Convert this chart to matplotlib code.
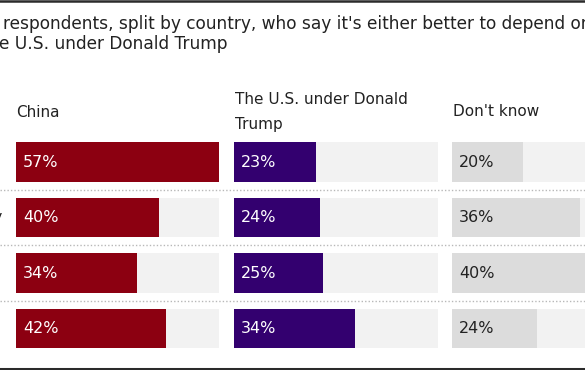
import matplotlib
matplotlib.use("Agg")
import matplotlib.pyplot as plt
from matplotlib.lines import Line2D

W, H = 585, 370

china = [57, 40, 34, 42]
us = [23, 24, 25, 34]
dont_know = [20, 36, 40, 24]
columns = ["China", "The U.S. under Donald\nTrump", "Don't know"]
row_labels = ["", "Germany", "", ""]
title_1 = "respondents, split by country, who say it's either better to depend on"
title_2 = "e U.S. under Donald Trump"

bar_colors = ["#8c0011", "#33006f", "#dcdcdc"]
label_colors = ["white", "white", "#222222"]
track = "#f2f2f2"


def fx(x):
    return x / W


def fy(y):
    return 1 - y / H


fig = plt.figure(figsize=(W / 100, H / 100), dpi=100)
fig.patch.set_facecolor("white")

# title (cut off in the source picture)
fig.text(fx(3), fy(29), title_1, fontsize=12.25, color="#222222", va="baseline")
fig.text(fx(-1), fy(49), title_2, fontsize=12.25, color="#222222", va="baseline")

# rules at top and bottom
fig.add_artist(Line2D([0, 1], [fy(1), fy(1)], transform=fig.transFigure, color="#2b2b2b", lw=1.8))
fig.add_artist(Line2D([0, 1], [fy(368.5), fy(368.5)], transform=fig.transFigure, color="#2b2b2b", lw=2.2))

# dotted separators between rows
for y in [189.9, 245.3, 300.7]:
    fig.add_artist(Line2D([0, 1], [fy(y), fy(y)], transform=fig.transFigure,
                          color="#b8b8b8", lw=1, linestyle=(0, (1, 1.5))))

# row labels (only the tail of one is visible)
for i, lab in enumerate(row_labels):
    if lab:
        fig.text(fx(2.5), fy(162.2 + i * 55.4), lab, fontsize=10.8, color="#222222",
                 ha="right", va="center")

lefts = [15.7, 234.0, 451.7]
pw = 203.5
top = 134.5
ph = 4 * 55.4
vmax = max(china)
series = [china, us, dont_know]

for k in range(3):
    ax = fig.add_axes([fx(lefts[k]), fy(top + ph), pw / W, ph / H])
    rows = range(len(series[k]))
    ax.barh(rows, [vmax] * len(series[k]), height=0.713, color=track)
    ax.barh(rows, series[k], height=0.713, color=bar_colors[k])
    for i, v in enumerate(series[k]):
        ax.text(2.0, i, "%d%%" % v, color=label_colors[k], fontsize=11.5,
                va="center", ha="left")
    ax.set_xlim(0, vmax)
    ax.set_ylim(3.5, -0.5)
    ax.axis("off")

# column headers
fig.text(fx(15.7), fy(116.7), columns[0], fontsize=11, color="#222222", va="baseline")
fig.text(fx(235), fy(104), "The U.S. under Donald", fontsize=11, color="#222222", va="baseline")
fig.text(fx(235), fy(128.5), "Trump", fontsize=11, color="#222222", va="baseline")
fig.text(fx(452.7), fy(116.5), columns[2], fontsize=11, color="#222222", va="baseline")

fig.savefig("out.png", dpi=100)
